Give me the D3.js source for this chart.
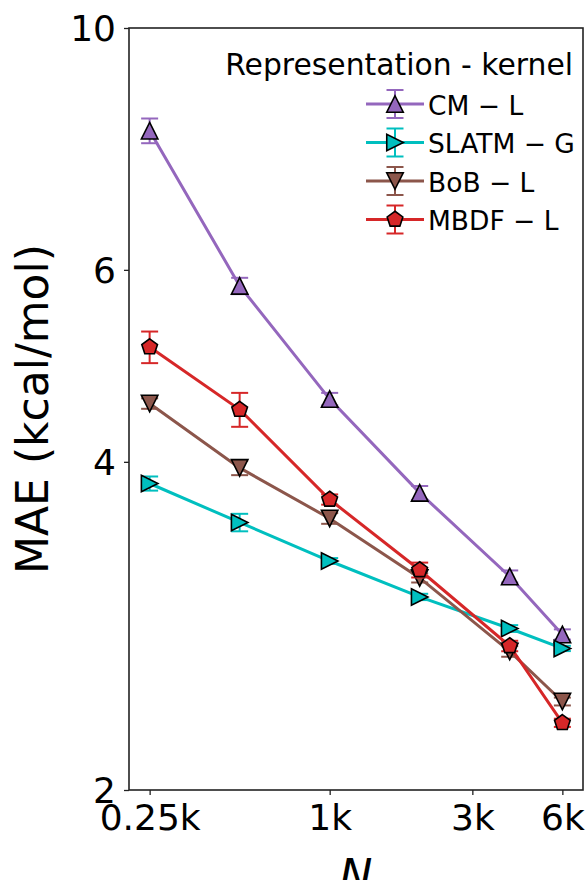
<!DOCTYPE html>
<html><head><meta charset="utf-8">
<script src="https://cdn.jsdelivr.net/npm/d3@7"></script>
<style>html,body{margin:0;padding:0;background:#fff;}svg{display:block;font-family:"DejaVu Sans",sans-serif;}</style>
</head><body>
<script>
const sizesN = [250, 500, 1000, 2000, 4000, 6000];
const xTickVals = [250, 1000, 3000, 6000];
const xTickLabels = ["0.25k", "1k", "3k", "6k"];
const yTickVals = [2, 4, 6, 10];
const yTickLabels = ["2", "4", "6", "10"];
const seriesNames = ["CM \u2212 L", "SLATM \u2212 G", "BoB \u2212 L", "MBDF \u2212 L"];
const cmMAE    = [8.05, 5.80, 4.567, 3.746, 3.14, 2.778];
const cmErr    = [0.21, 0.10, 0.06, 0.055, 0.04, 0.03];
const slatmMAE = [3.821, 3.519, 3.244, 3.007, 2.813, 2.697];
const slatmErr = [0.057, 0.065, 0.02, 0.02, 0.02, 0.015];
const bobMAE   = [4.524, 3.949, 3.549, 3.13, 2.68, 2.411];
const bobErr   = [0.05, 0.06, 0.04, 0.03, 0.03, 0.02];
const mbdfMAE  = [5.097, 4.467, 3.694, 3.183, 2.711, 2.305];
const mbdfErr  = [0.17, 0.16, 0.04, 0.05, 0.03, 0.02];
const colors = ["#9467bd", "#00bfbf", "#8c564b", "#d62728"];
const markers = ["up", "right", "down", "pent"];

const W = 587, H = 880;
const m = {l:129, r:583, t:28, b:790};
const svg = d3.select("body").append("svg").attr("width", W).attr("height", H);

const lx0 = Math.log10(250), lx1 = Math.log10(6000), pad = (lx1 - lx0) * 0.05;
const x = d3.scaleLog().domain([Math.pow(10, lx0 - pad), Math.pow(10, lx1 + pad)]).range([m.l, m.r]);
const y = d3.scaleLog().domain([2, 10]).range([m.b, m.t]);

const S = 16.5;
function markerPath(type, s){
  const h = s/2;
  if (type === "up") return `M0,${-h}L${h},${h}L${-h},${h}Z`;
  if (type === "down") return `M0,${h}L${h},${-h}L${-h},${-h}Z`;
  if (type === "right") return `M${h},0L${-h},${h}L${-h},${-h}Z`;
  const r = s/2, pts = [];
  for (let i = 0; i < 5; i++){ const a = -Math.PI/2 + i*2*Math.PI/5; pts.push([r*Math.cos(a), r*Math.sin(a)]); }
  return "M" + pts.map(p => p[0].toFixed(2)+","+p[1].toFixed(2)).join("L") + "Z";
}

const plot = svg.append("g");
const data = [
  {v: cmMAE, e: cmErr}, {v: slatmMAE, e: slatmErr}, {v: bobMAE, e: bobErr}, {v: mbdfMAE, e: mbdfErr}
];
const cap = 8.5;
data.forEach((d, i) => {
  const g = plot.append("g");
  const pts = sizesN.map((n, j) => ({n, v: d.v[j], e: d.e[j]}));
  g.append("path").attr("d", d3.line().x(p => x(p.n)).y(p => y(p.v))(pts))
    .attr("fill", "none").attr("stroke", colors[i]).attr("stroke-width", 3);
  pts.forEach(p => {
    const cx = x(p.n), y1 = y(p.v + p.e), y2 = y(p.v - p.e);
    g.append("line").attr("x1", cx).attr("x2", cx).attr("y1", y1).attr("y2", y2).attr("stroke", colors[i]).attr("stroke-width", 2);
    [y1, y2].forEach(yy => g.append("line").attr("x1", cx - cap).attr("x2", cx + cap).attr("y1", yy).attr("y2", yy).attr("stroke", colors[i]).attr("stroke-width", 2));
  });
  g.selectAll("path.mk").data(pts).enter().append("path").attr("class", "mk")
    .attr("d", markerPath(markers[i], S))
    .attr("transform", p => `translate(${x(p.n)},${y(p.v)})`)
    .attr("fill", colors[i]).attr("stroke", "#000").attr("stroke-width", 1.6).attr("stroke-linejoin", "miter");
});

// frame
svg.append("rect").attr("x", m.l).attr("y", m.t).attr("width", m.r - m.l).attr("height", m.b - m.t)
  .attr("fill", "none").attr("stroke", "#222").attr("stroke-width", 1.6);

// axes
const xAxis = d3.axisBottom(x).tickValues(xTickVals).tickFormat((d, i) => xTickLabels[i]).tickSize(5).tickPadding(9);
const gx = svg.append("g").attr("transform", `translate(0,${m.b})`).call(xAxis);
gx.select(".domain").remove();
gx.selectAll("line").attr("stroke", "#222").attr("stroke-width", 1.3);
gx.selectAll("text").attr("font-size", 36).attr("fill", "#000").attr("font-family", "DejaVu Sans").attr("dy", "0.71em");

const yAxis = d3.axisLeft(y).tickValues(yTickVals).tickFormat((d, i) => yTickLabels[i]).tickSize(5).tickPadding(8);
const gy = svg.append("g").attr("transform", `translate(${m.l},0)`).call(yAxis);
gy.select(".domain").remove();
gy.selectAll("line").attr("stroke", "#222").attr("stroke-width", 1.3);
gy.selectAll("text").attr("font-size", 36).attr("fill", "#000").attr("font-family", "DejaVu Sans").attr("dy", "0.36em");

svg.append("text").attr("transform", `translate(48,${(m.t + m.b)/2}) rotate(-90)`)
  .attr("text-anchor", "middle").attr("font-size", 44).text("MAE (kcal/mol)");
svg.append("text").attr("x", (m.l + m.r)/2).attr("y", 891).attr("text-anchor", "middle")
  .attr("font-size", 44).attr("font-style", "italic").text("N");

// legend
const lg = svg.append("g");
lg.append("text").attr("x", 573).attr("y", 75).attr("text-anchor", "end").attr("font-size", 29.8).text("Representation - kernel");
const rowY = [104, 142.5, 181, 219.5];
seriesNames.forEach((name, i) => {
  const cy = rowY[i], cx = 395;
  lg.append("line").attr("x1", 366).attr("x2", 424).attr("y1", cy).attr("y2", cy).attr("stroke", colors[i]).attr("stroke-width", 3);
  lg.append("line").attr("x1", cx).attr("x2", cx).attr("y1", cy - 14).attr("y2", cy + 14).attr("stroke", colors[i]).attr("stroke-width", 2);
  [cy - 14, cy + 14].forEach(yy => lg.append("line").attr("x1", cx - cap).attr("x2", cx + cap).attr("y1", yy).attr("y2", yy).attr("stroke", colors[i]).attr("stroke-width", 2));
  lg.append("path").attr("d", markerPath(markers[i], S)).attr("transform", `translate(${cx},${cy})`)
    .attr("fill", colors[i]).attr("stroke", "#000").attr("stroke-width", 1.6);
  lg.append("text").attr("x", 428).attr("y", cy + 10.5).attr("font-size", 26.5).text(name);
});
</script>
</body></html>
